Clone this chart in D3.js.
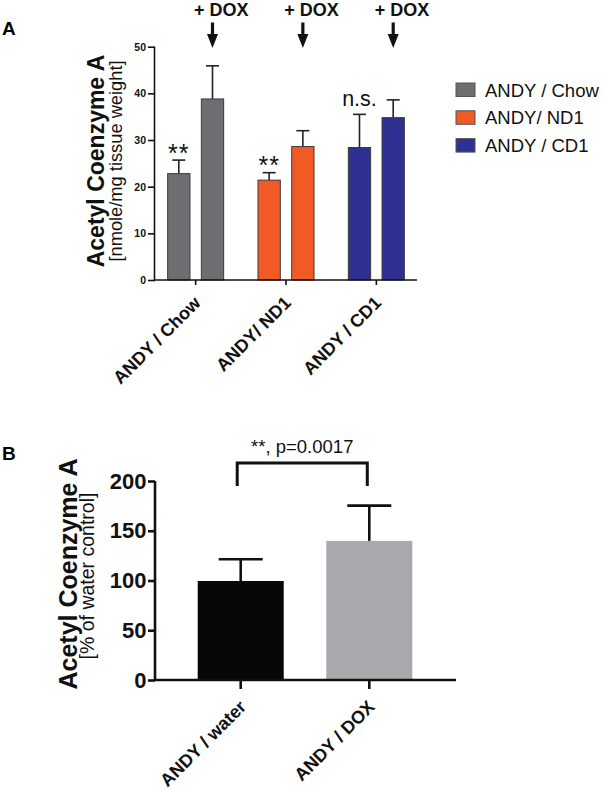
<!DOCTYPE html>
<html>
<head>
<meta charset="utf-8">
<script src="https://cdn.jsdelivr.net/npm/d3@7"></script>
<style>
  html, body { margin: 0; padding: 0; background: #fff; }
  svg { display: block; font-family: "Liberation Sans", Arial, Helvetica, sans-serif; }
</style>
</head>
<body>
<svg id="chart" width="605" height="790"></svg>
<script>
// ---------- Panel A data ----------
const groupsA = ["ANDY / Chow", "ANDY/ ND1", "ANDY / CD1"];
const seriesA = ["control", "DOX"];
const meansControlA = [22.8, 21.4, 28.4];
const meansDoxA = [38.8, 28.6, 34.8];
const errControlA = [2.9, 1.6, 7.1];
const errDoxA = [7.1, 3.4, 3.8];
const colorsA = ["#6d6e71", "#f15a24", "#2e3192"];
const sigLabelsA = ["**", "**", "n.s."];
const yTicksA = [0, 10, 20, 30, 40, 50];
const doxLabel = "+ DOX";

// ---------- Panel B data ----------
const catsB = ["ANDY / water", "ANDY / DOX"];
const meansB = [99.5, 139.8];
const errB = [21.9, 35.5];
const colorsB = ["#060709", "#a7a9ac"];
const yTicksB = [0, 50, 100, 150, 200];
const sigTextB = "**, p=0.0017";

const svg = d3.select("#chart");

// =================== PANEL A ===================
const A = { left: 155, right: 417, top: 46.7, bottom: 280 };
const yA = d3.scaleLinear().domain([0, 50]).range([A.bottom, A.top]);
const xA = d3.scaleBand().domain(groupsA).range([A.left, A.right]).paddingInner(0.38).paddingOuter(0.14);
const xInA = d3.scaleBand().domain(seriesA).range([0, xA.bandwidth()]).paddingInner(0.338);

svg.append("text").attr("x", 2).attr("y", 35).attr("font-size", 19).attr("font-weight", "bold").text("A");

const gA = svg.append("g");
const barsA = [];
groupsA.forEach((g, i) => {
  barsA.push({ g, s: "control", v: meansControlA[i], e: errControlA[i], c: colorsA[i], i });
  barsA.push({ g, s: "DOX", v: meansDoxA[i], e: errDoxA[i], c: colorsA[i], i });
});

// error bars (behind bars)
const errGA = gA.append("g").attr("stroke", "#222").attr("stroke-width", 1.6);
barsA.forEach(d => {
  const cx = xA(d.g) + xInA(d.s) + xInA.bandwidth() / 2;
  errGA.append("line").attr("x1", cx).attr("x2", cx).attr("y1", yA(d.v)).attr("y2", yA(d.v + d.e));
  errGA.append("line").attr("x1", cx - 6.5).attr("x2", cx + 6.5).attr("y1", yA(d.v + d.e)).attr("y2", yA(d.v + d.e));
});

gA.selectAll("rect.bar").data(barsA).join("rect")
  .attr("x", d => xA(d.g) + xInA(d.s))
  .attr("y", d => yA(d.v))
  .attr("width", xInA.bandwidth())
  .attr("height", d => yA(0) - yA(d.v))
  .attr("fill", d => d.c)
  .attr("stroke", "#3a3a3a").attr("stroke-width", 1);

// significance labels
barsA.filter(d => d.s === "control").forEach(d => {
  const cx = xA(d.g) + xInA(d.s) + xInA.bandwidth() / 2;
  const lab = sigLabelsA[d.i];
  const ns = lab === "n.s.";
  gA.append("text")
    .attr("x", cx).attr("y", yA(d.v + d.e) - (ns ? 8.5 : -1.5))
    .attr("text-anchor", "middle").attr("font-size", ns ? 21.5 : 25)
    .attr("letter-spacing", ns ? 0 : 1)
    .attr("fill", "#111").text(lab);
});

// + DOX labels and arrows
barsA.filter(d => d.s === "DOX").forEach(d => {
  const cx = xA(d.g) + xInA(d.s) + xInA.bandwidth() / 2;
  gA.append("text").attr("x", cx - 18.5).attr("y", 15.5)
    .attr("font-size", 18).attr("font-weight", "bold").attr("fill", "#111").text(doxLabel);
  gA.append("line").attr("x1", cx).attr("x2", cx).attr("y1", 22.5).attr("y2", 36)
    .attr("stroke", "#111").attr("stroke-width", 3.2);
  gA.append("path").attr("d", `M${cx - 5.5},34 L${cx + 5.5},34 L${cx},48 Z`).attr("fill", "#111");
});

// axes A
const yAxisA = gA.append("g").attr("transform", `translate(${A.left},0)`)
  .call(d3.axisLeft(yA).tickValues(yTicksA).tickSize(7).tickPadding(2));
yAxisA.select(".domain").attr("stroke", "#111").attr("stroke-width", 1.6).attr("d", `M-0.5,${A.top}V${A.bottom}`);
yAxisA.selectAll(".tick line").attr("stroke", "#111").attr("stroke-width", 1.6);
yAxisA.selectAll(".tick text").attr("font-size", 10.5).attr("font-weight", "bold").attr("fill", "#111")
  .attr("font-family", "'Liberation Sans', Arial, sans-serif");

const xAxisA = gA.append("g").attr("transform", `translate(0,${A.bottom})`)
  .call(d3.axisBottom(xA).tickSize(5).tickFormat(""));
xAxisA.select(".domain").attr("stroke", "#111").attr("stroke-width", 1.6).attr("d", `M${A.left - 1},0H${A.right}`);
xAxisA.selectAll(".tick line").attr("stroke", "#111").attr("stroke-width", 1.6);

groupsA.forEach(g => {
  const cx = xA(g) + xA.bandwidth() / 2;
  gA.append("text")
    .attr("transform", `translate(${cx + 6},${A.bottom + 24}) rotate(-45)`)
    .attr("text-anchor", "end").attr("font-size", 18).attr("font-weight", "bold").attr("fill", "#111")
    .text(g);
});

// y labels A
const midA = 161;
gA.append("text").attr("transform", `translate(104,${midA}) rotate(-90)`)
  .attr("text-anchor", "middle").attr("font-size", 23).attr("font-weight", "bold").attr("fill", "#111")
  .text("Acetyl Coenzyme A");
gA.append("text").attr("transform", `translate(122,${midA}) rotate(-90)`)
  .attr("text-anchor", "middle").attr("font-size", 18.3).attr("fill", "#111")
  .text("[nmole/mg tissue weight]");

// legend A
const leg = svg.append("g");
groupsA.forEach((g, i) => {
  const y0 = 83 + i * 27.8;
  leg.append("rect").attr("x", 456).attr("y", y0).attr("width", 19).attr("height", 13.5)
    .attr("fill", colorsA[i]).attr("stroke", "#555").attr("stroke-width", 1);
  leg.append("text").attr("x", 485).attr("y", y0 + 13.5).attr("font-size", 18.5).attr("fill", "#111").text(g);
});

// =================== PANEL B ===================
const B = { left: 155, right: 456, top: 481, bottom: 680 };
const yB = d3.scaleLinear().domain([0, 200]).range([B.bottom, B.top]);
const xB = d3.scaleBand().domain(catsB).range([154, 456]).paddingInner(0.331).paddingOuter(0.34);

svg.append("text").attr("x", 2).attr("y", 460).attr("font-size", 19).attr("font-weight", "bold").text("B");

const gB = svg.append("g");
const dataB = catsB.map((c, i) => ({ c, v: meansB[i], e: errB[i], col: colorsB[i] }));

const errGB = gB.append("g").attr("stroke", "#111").attr("stroke-width", 2.6);
dataB.forEach(d => {
  const cx = xB(d.c) + xB.bandwidth() / 2;
  errGB.append("line").attr("x1", cx).attr("x2", cx).attr("y1", yB(d.v)).attr("y2", yB(d.v + d.e));
  errGB.append("line").attr("x1", cx - 22).attr("x2", cx + 22).attr("y1", yB(d.v + d.e)).attr("y2", yB(d.v + d.e));
});

gB.selectAll("rect.bar").data(dataB).join("rect")
  .attr("x", d => xB(d.c)).attr("y", d => yB(d.v))
  .attr("width", xB.bandwidth()).attr("height", d => yB(0) - yB(d.v))
  .attr("fill", d => d.col);

// significance bracket
const bx1 = xB(catsB[0]) + xB.bandwidth() / 2 - 3.5;
const bx2 = xB(catsB[1]) + xB.bandwidth() / 2 - 2;
gB.append("path").attr("d", `M${bx1},486V463H${bx2}V486`)
  .attr("fill", "none").attr("stroke", "#111").attr("stroke-width", 3);
gB.append("text").attr("x", (bx1 + bx2) / 2).attr("y", 452.5).attr("text-anchor", "middle")
  .attr("font-size", 18.5).attr("fill", "#111").text(sigTextB);

const yAxisB = gB.append("g").attr("transform", `translate(${B.left},0)`)
  .call(d3.axisLeft(yB).tickValues(yTicksB).tickSize(7).tickPadding(1.5));
yAxisB.select(".domain").attr("stroke", "#111").attr("stroke-width", 2.6).attr("d", `M0,${B.top}V${B.bottom}`);
yAxisB.selectAll(".tick line").attr("stroke", "#111").attr("stroke-width", 2.6);
yAxisB.selectAll(".tick text").attr("font-size", 22).attr("font-weight", "bold").attr("fill", "#111")
  .attr("font-family", "'Liberation Sans', Arial, sans-serif");

const xAxisB = gB.append("g").attr("transform", `translate(0,${B.bottom})`)
  .call(d3.axisBottom(xB).tickSize(9).tickFormat(""));
xAxisB.select(".domain").attr("stroke", "#111").attr("stroke-width", 2.6).attr("d", `M${B.left - 1},0H${B.right}`);
xAxisB.selectAll(".tick line").attr("stroke", "#111").attr("stroke-width", 2.6);

catsB.forEach(c => {
  const cx = xB(c) + xB.bandwidth() / 2;
  gB.append("text")
    .attr("transform", `translate(${cx + 6.5},${B.bottom + 28}) rotate(-45)`)
    .attr("text-anchor", "end").attr("font-size", 18).attr("font-weight", "bold").attr("fill", "#111")
    .text(c);
});

const midB = 574;
gB.append("text").attr("transform", `translate(76.5,${midB}) rotate(-90)`)
  .attr("text-anchor", "middle").attr("font-size", 25).attr("font-weight", "bold").attr("fill", "#111")
  .text("Acetyl Coenzyme A");
gB.append("text").attr("transform", `translate(94,${midB + 2}) rotate(-90)`)
  .attr("text-anchor", "middle").attr("font-size", 19.5).attr("fill", "#111")
  .text("[% of water control]");
</script>
</body>
</html>
